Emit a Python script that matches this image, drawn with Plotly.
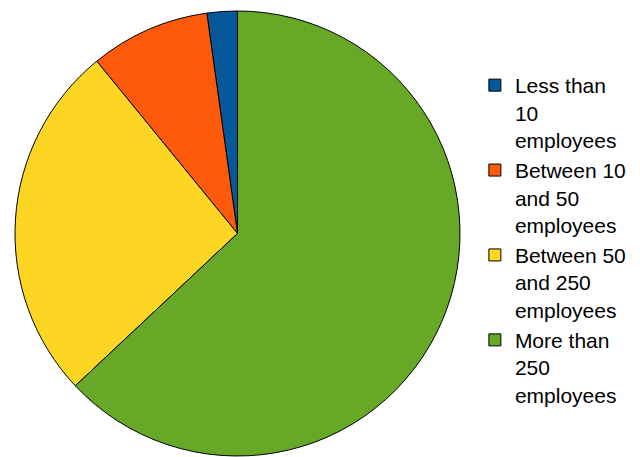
import plotly.graph_objects as go

# Share of enterprises by size class
labels = [
    "Less than<br>10<br>employees",
    "Between 10<br>and 50<br>employees",
    "Between 50<br>and 250<br>employees",
    "More than<br>250<br>employees",
]
values = [2.2, 8.7, 26.1, 63.0]
colors = ["#05599a", "#fd5a0c", "#fdd624", "#67a927"]

W, H = 640, 457

# start the first (smallest) slice just left of 12 o'clock, then run counterclockwise
start_rotation = -360 * values[0] / sum(values)

fig = go.Figure(
    go.Pie(
        labels=labels,
        values=values,
        sort=False,
        direction="counterclockwise",
        rotation=start_rotation,
        marker=dict(colors=colors, line=dict(color="#000000", width=1)),
        textinfo="none",
        hoverinfo="label+percent",
        domain=dict(x=[14 / W, 461 / W], y=[1 / H, 446 / H]),
    )
)

fig.update_layout(
    width=W,
    height=H,
    margin=dict(l=0, r=0, t=0, b=0),
    paper_bgcolor="white",
    plot_bgcolor="white",
    showlegend=True,
    legend=dict(
        x=0.742,
        y=(H - 65) / H,
        xanchor="left",
        yanchor="top",
        valign="top",
        font=dict(family="Liberation Sans, Arial, sans-serif", size=21, color="#000000"),
        tracegroupgap=0,
        bgcolor="rgba(0,0,0,0)",
    ),
)

fig.write_html("out.html")
